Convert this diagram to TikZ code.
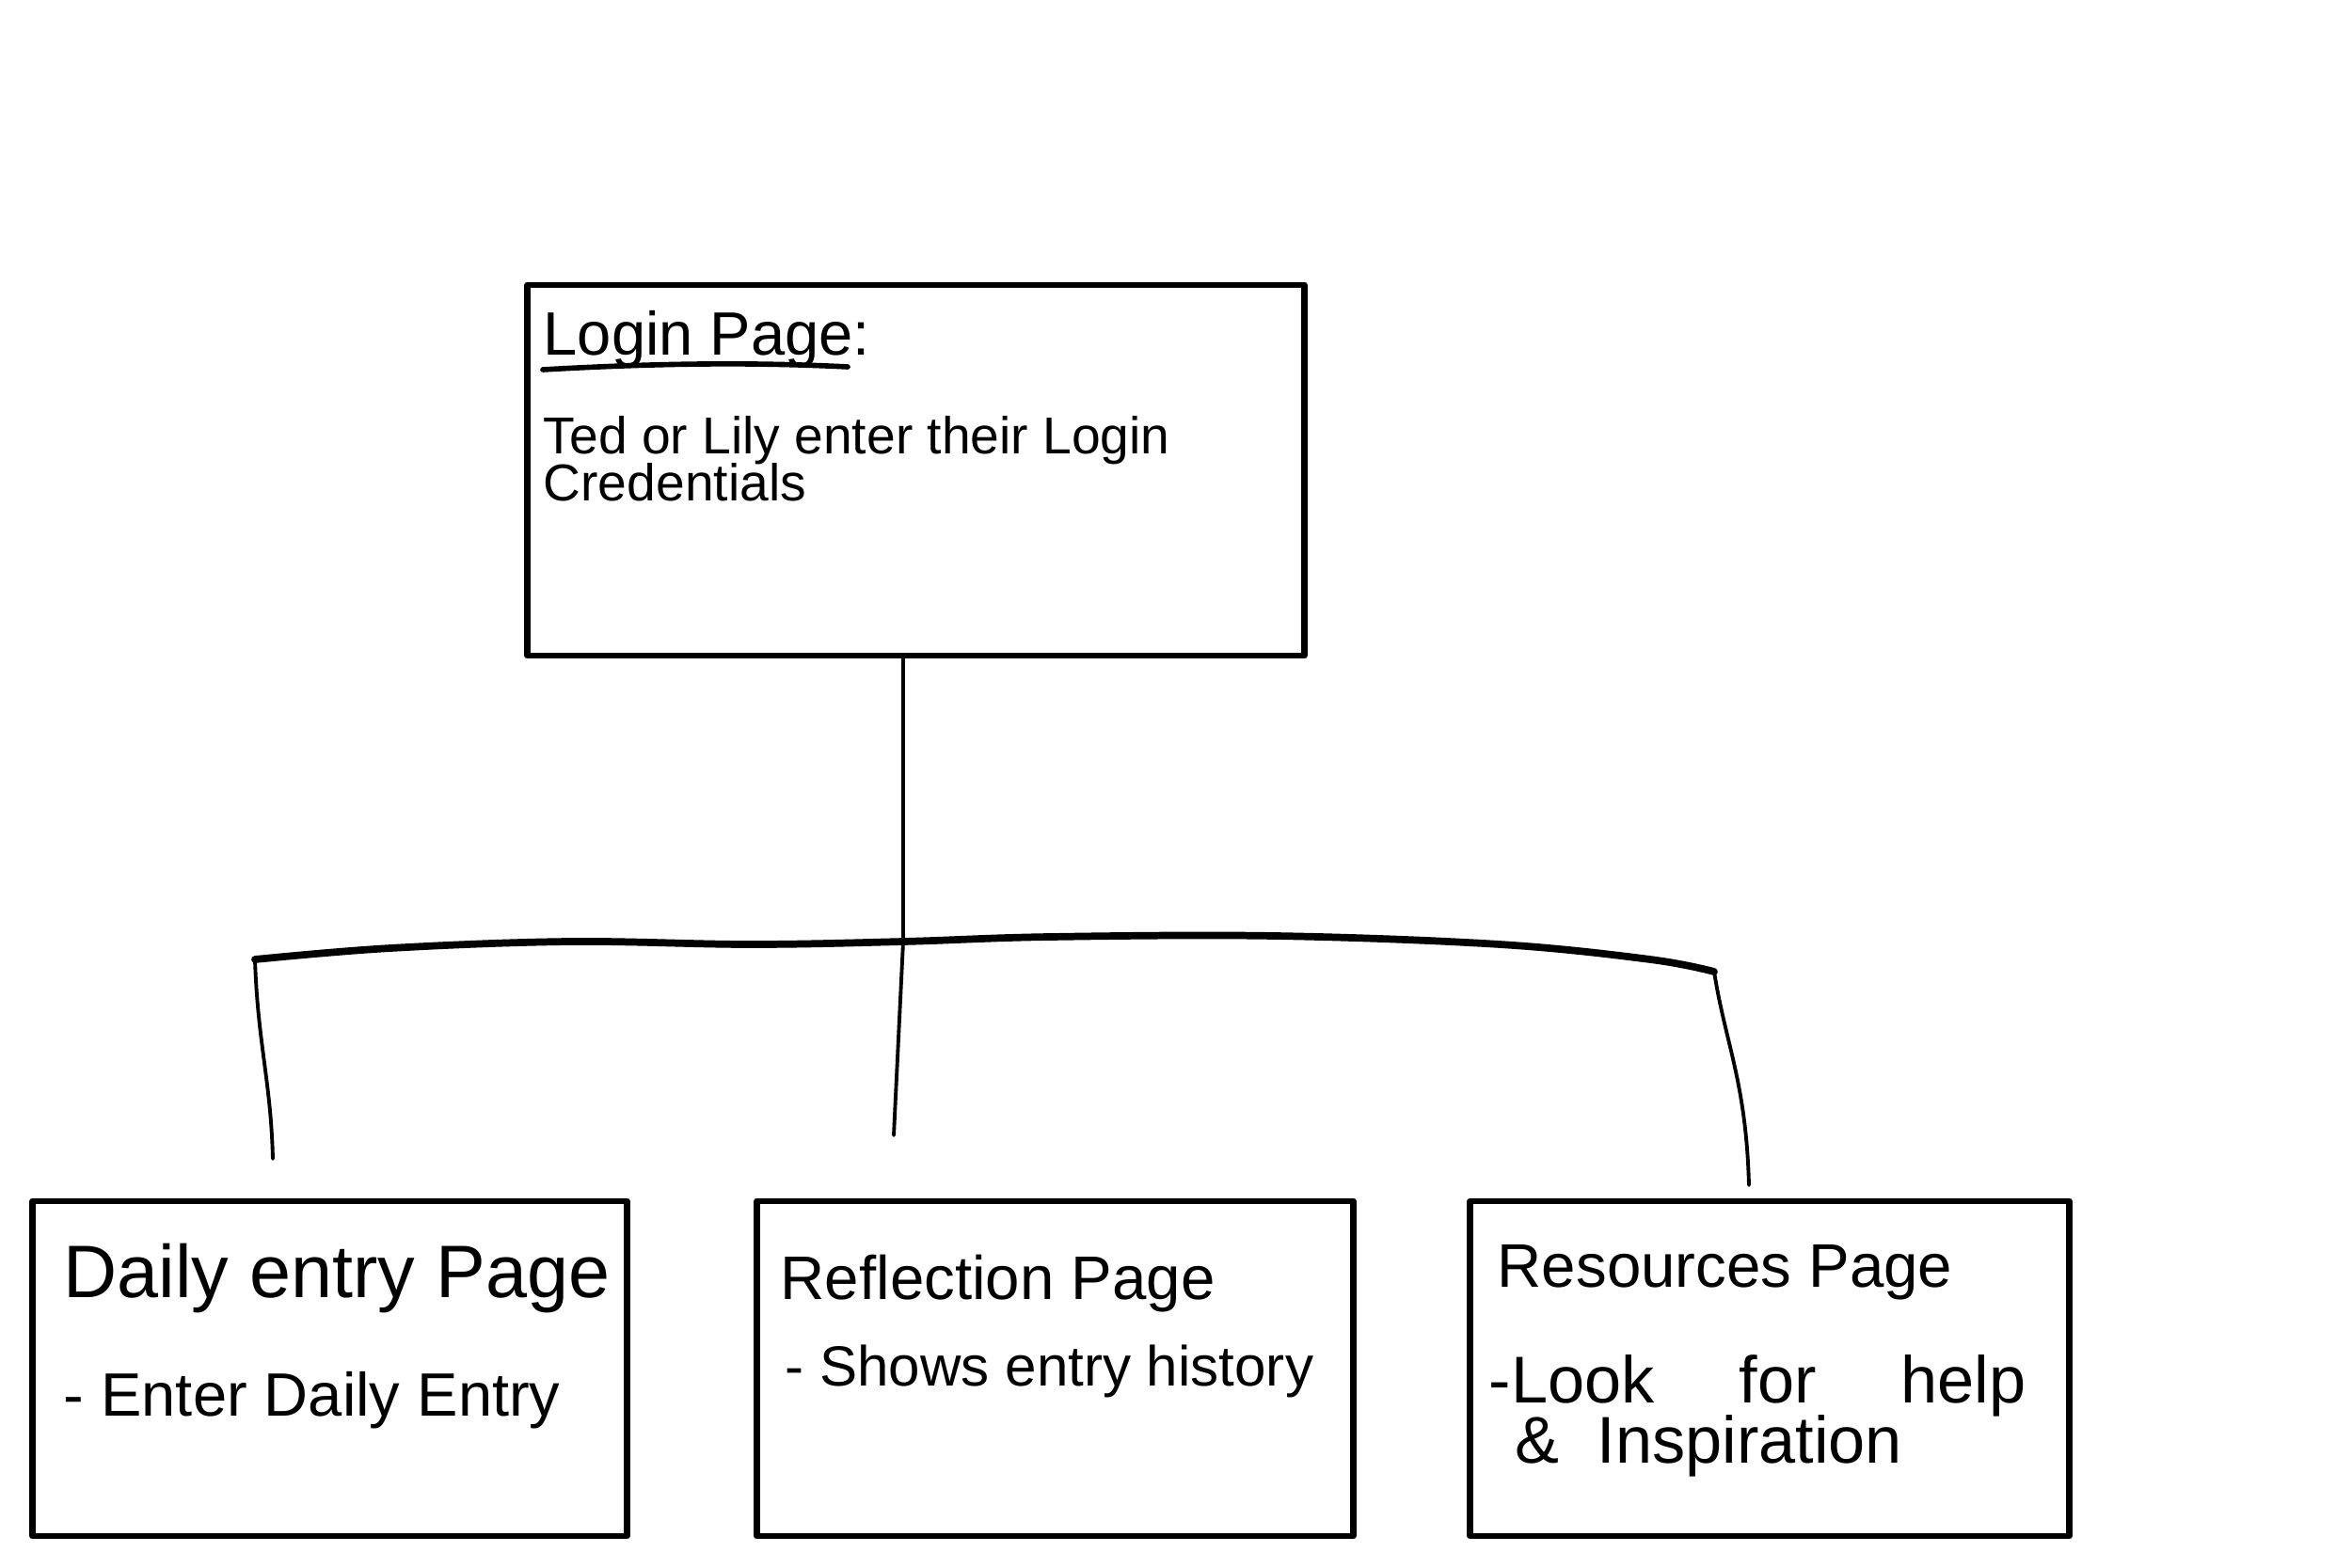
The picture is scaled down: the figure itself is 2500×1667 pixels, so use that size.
\documentclass[tikz,border=0pt]{standalone}
\usepackage{fontspec}
\setmainfont{Liberation Sans}
\begin{document}
\begin{tikzpicture}[x=0.01cm,y=-0.01cm,
  pagebox/.style={draw,rectangle,line width=1.9pt,line join=round,inner sep=0pt},
  thinline/.style={line width=1.1pt,line cap=round,line join=round},
  barline/.style={line width=2.2pt,line cap=round,line join=round},
  titletext/.style={anchor=base west,inner sep=0pt,font=\fontsize{18.6}{22}\selectfont},
  bodytext/.style={anchor=base west,inner sep=0pt,font=\fontsize{18.5}{22}\selectfont},
  logintitle/.style={anchor=base west,inner sep=0pt,font=\fontsize{18.5}{22}\selectfont},
  loginbody/.style={anchor=base west,inner sep=0pt,font=\fontsize{15.7}{19}\selectfont}]
\useasboundingbox (0,0) rectangle (2500,1667);

% boxes
\node[pagebox,minimum width=8.25cm,minimum height=3.94cm] (login) at (973.5,500) {};
\node[pagebox,minimum width=6.31cm,minimum height=3.56cm] (daily) at (350.5,1455) {};
\node[pagebox,minimum width=6.33cm,minimum height=3.56cm] (refl) at (1121.5,1455) {};
\node[pagebox,minimum width=6.36cm,minimum height=3.56cm] (res) at (1881,1455) {};

% login texts
\node[logintitle] (logint) at (577,378) {Login Page:};
\draw[line width=1.6pt,line cap=round] (577,393) .. controls (700,386) and (800,385) .. (901,390);
\node[loginbody] (loginb1) at (577,482) {Ted or Lily enter their Login};
\node[loginbody] (loginb2) at (577,532) {Credentials};

% bottom texts
\node[titletext,font=\fontsize{22.5}{26}\selectfont] (dailyt) at (67,1379) {Daily entry Page};
\node[bodytext] (dailyb) at (67,1505) {- Enter Daily Entry};
\node[titletext] (reflt) at (829,1381) {Reflection Page};
\node[bodytext,font=\fontsize{17.1}{21}\selectfont] (reflb) at (834,1473) {- Shows entry history};
\node[titletext] (rest) at (1591,1368) {Resources Page};
\node[bodytext,font=\fontsize{20}{24}\selectfont] (resb1) at (1582,1491) {-Look\hspace{0.9cm}for\hspace{0.9cm}help};
\node[bodytext,font=\fontsize{20}{24}\selectfont] (resb2) at (1610,1555) {\&\hspace{0.4cm}Inspiration};

% connectors
\coordinate (j) at (960,1001);
\coordinate (midend) at (950,1207);
\coordinate (lcorner) at (271,1020);
\coordinate (lend) at (290,1232);
\coordinate (rcorner) at (1822,1033);
\coordinate (rend) at (1859,1260);

\draw[thinline] (login.south -| j) -- (j) -- (midend);
\draw[barline] plot[smooth,tension=0.6] coordinates {(lcorner) (415,1008) (606,1001) (797,1004) (j) (1116,996) (1355,995) (1594,1004) (1754,1020) (rcorner)};
\draw[thinline] (lcorner) .. controls (274,1110) and (288,1150) .. (lend);
\draw[thinline] (rcorner) .. controls (1834,1110) and (1856,1150) .. (rend);
\end{tikzpicture}
\end{document}
